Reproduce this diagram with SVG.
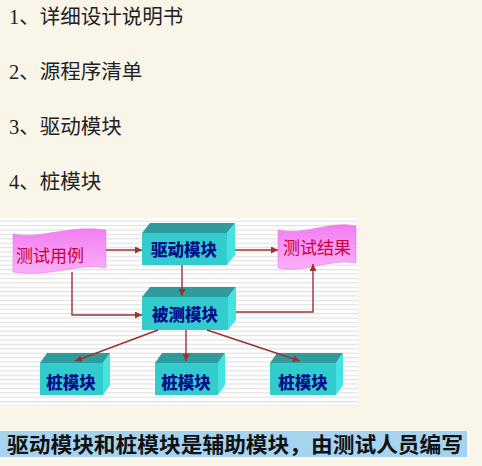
<svg xmlns="http://www.w3.org/2000/svg" width="482" height="466" viewBox="0 0 482 466">
<defs>
<pattern id="stripes" x="0" y="218" width="8" height="4.4" patternUnits="userSpaceOnUse">
<rect width="8" height="4.4" fill="#ffffff"/>
<rect y="2.6" width="8" height="1.2" fill="#e2e2e2"/>
</pattern>
<linearGradient id="pink" x1="0" y1="0" x2="0" y2="1">
<stop offset="0" stop-color="#f27ef2"/>
<stop offset="1" stop-color="#fbb0f8"/>
</linearGradient>
<marker id="ah" viewBox="0 0 10 10" refX="10" refY="5" markerWidth="7" markerHeight="7" markerUnits="userSpaceOnUse" orient="auto">
<path d="M0,0 L10,5 L0,10 z" fill="#993333"/>
</marker>
<style>
.list{font-family:"Liberation Serif","Noto Sans CJK SC",serif;font-size:20.5px;fill:#222}
.front{fill:#33cccc}
.top{fill:#2e9c9c}
.side{fill:#45e2e2}
.bl{font-family:"Noto Sans CJK SC",sans-serif;font-weight:900;font-size:16.5px;fill:#000e8a;text-anchor:middle}
.pl{font-family:"Noto Sans CJK SC",sans-serif;font-size:17px;fill:#c80038;text-anchor:middle}
.flag{fill:url(#pink);stroke:#e070e0;stroke-width:0.5}
.conn{fill:none;stroke:#993333;stroke-width:1.4;marker-end:url(#ah)}
</style>
</defs>
<rect width="482" height="466" fill="#f9f5e9"/>
<text class="list" x="9" y="24">1、详细设计说明书</text>
<text class="list" x="9" y="79">2、源程序清单</text>
<text class="list" x="9" y="134">3、驱动模块</text>
<text class="list" x="9" y="189">4、桩模块</text>
<rect x="0" y="218" width="358" height="188" fill="url(#stripes)"/>
<g id="testcase">
<path class="flag" d="M13,234 C40,240 70,224 106,230 L106,268 C80,262 50,278 13,272 Z"/>
<text class="pl" x="50" y="262">测试用例</text>
</g>
<g id="result">
<path class="flag" d="M278,230 C305,236 330,220 356,226 L356,263 C330,258 305,274 278,268 Z"/>
<text class="pl" x="317" y="254">测试结果</text>
</g>
<g id="driver">
<polygon class="top" points="142,233 150,223 235,223 227,233"/>
<polygon class="side" points="227,233 235,223 235,255 227,265"/>
<rect class="front" x="142" y="233" width="85" height="32"/>
<text class="bl" x="184" y="256">驱动模块</text>
</g>
<g id="tested">
<polygon class="top" points="142,297 150,287 236,287 228,297"/>
<polygon class="side" points="228,297 236,287 236,320 228,330"/>
<rect class="front" x="142" y="297" width="86" height="33"/>
<text class="bl" x="185" y="321">被测模块</text>
</g>
<g id="stub1">
<polygon class="top" points="40,363 47,353 110,353 103,363"/>
<polygon class="side" points="103,363 110,353 110,385 103,395"/>
<rect class="front" x="40" y="363" width="63" height="32"/>
<text class="bl" x="71" y="389">桩模块</text>
</g>
<g id="stub2">
<polygon class="top" points="155,363 162,353 225,353 218,363"/>
<polygon class="side" points="218,363 225,353 225,385 218,395"/>
<rect class="front" x="155" y="363" width="63" height="32"/>
<text class="bl" x="186" y="389">桩模块</text>
</g>
<g id="stub3">
<polygon class="top" points="270,363 277,353 343,353 336,363"/>
<polygon class="side" points="336,363 343,353 343,385 336,395"/>
<rect class="front" x="270" y="363" width="66" height="32"/>
<text class="bl" x="303" y="389">桩模块</text>
</g>
<g id="connectors">
<path class="conn" d="M106,250 L142,250"/>
<path class="conn" d="M235,250 L278,250"/>
<path class="conn" d="M182,265 L182,296"/>
<path class="conn" d="M72,272 L72,315 L142,315"/>
<path class="conn" d="M236,312 L313,312 L313,264"/>
<path class="conn" d="M158,330 L75,361"/>
<path class="conn" d="M186,330 L186,361"/>
<path class="conn" d="M207,330 L300,361"/>
</g>
<rect x="0" y="431" width="467" height="26" fill="#a6d3f0"/>
<text x="7" y="452" textLength="456" lengthAdjust="spacingAndGlyphs" style="font-family:'Noto Sans CJK SC',sans-serif;font-weight:bold;font-size:21px;fill:#111">驱动模块和桩模块是辅助模块，由测试人员编写</text>
</svg>
